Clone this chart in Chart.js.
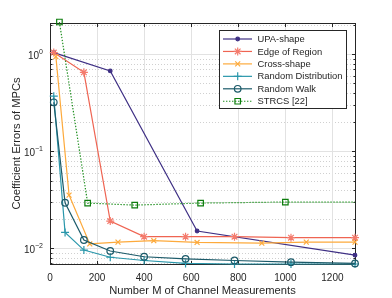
<!DOCTYPE html>
<html>
<head>
<meta charset="utf-8">
<script src="https://cdn.jsdelivr.net/npm/chart.js@4.4.0/dist/chart.umd.min.js"></script>
<style>
  html, body { margin: 0; padding: 0; background: #fff; }
</style>
</head>
<body>
<canvas id="chart" width="392" height="298"></canvas>
<script>
// number of channel measurements M (x) and coefficient error (y) per method
const upaM = [16, 256, 625, 1296];
const upaErr = [1.04, 0.673, 0.0151, 0.0085];

const edgeM = [16, 144, 256, 400, 576, 784, 1024, 1296];
const edgeErr = [1.04, 0.652, 0.0191, 0.0132, 0.0132, 0.0132, 0.0129, 0.0129];

const crossM = [25, 81, 169, 289, 441, 625, 900, 1089, 1296];
const crossErr = [0.945, 0.0354, 0.0111, 0.0116, 0.0120, 0.0115, 0.0113, 0.0116, 0.0116];

const randM = [16, 64, 144, 256, 400, 576, 784, 1024, 1296];
const randDistErr = [0.37, 0.0146, 0.0096, 0.0081, 0.0075, 0.0070, 0.0069, 0.0069, 0.0069];
const randWalkErr = [0.32, 0.0295, 0.0122, 0.0094, 0.0082, 0.0078, 0.0075, 0.0072, 0.0070];

const strcsM = [40, 160, 360, 640, 1000, 1296];
const strcsErr = [2.15, 0.0293, 0.0279, 0.0293, 0.0300, 0.0300];

const xTicks = [0, 200, 400, 600, 800, 1000, 1200];
const xRange = [0, 1296];
const yRange = [0.0069, 2.1];

const FONT = "'Liberation Sans', Arial, Helvetica, sans-serif";
const INK = '#262626';

function series(label, xs, ys, color, extra) {
  return Object.assign({
    label: label,
    data: xs.map((m, i) => ({ x: m, y: ys[i] })),
    borderColor: color,
    backgroundColor: color,
    pointBorderColor: color,
    pointBackgroundColor: color,
    borderWidth: 1.2,
    pointBorderWidth: 1.2,
    tension: 0,
    clip: false,
  }, extra);
}

const datasets = [
  series('UPA-shape', upaM, upaErr, '#3e2f84', { pointStyle: 'circle', pointRadius: 1.8, order: 6 }),
  series('Edge of Region', edgeM, edgeErr, '#ef6452', { pointStyle: 'star', pointRadius: 4, pointBorderColor: '#f47b6d', order: 5 }),
  series('Cross-shape', crossM, crossErr, '#fdaa3c', { pointStyle: 'crossRot', pointRadius: 3.5, order: 4 }),
  series('Random Distribution', randM, randDistErr, '#2a97ab', { pointStyle: 'cross', pointRadius: 4, order: 3 }),
  series('Random Walk', randM, randWalkErr, '#1b5a69', { pointStyle: 'circle', pointRadius: 3.3, pointBackgroundColor: 'rgba(0,0,0,0)', order: 2 }),
  series('STRCS [22]', strcsM, strcsErr, '#1f8f1f', {
    pointStyle: 'rect', pointRadius: strcsM.map((m, i) => i < strcsM.length - 1 ? 3.9 : 0),
    pointBorderColor: '#0d7d0d', pointBackgroundColor: 'rgba(0,0,0,0)',
    borderDash: [1.4, 1.6], order: 1,
  }),
];

function hline(ctx, x0, x1, y) { ctx.beginPath(); ctx.moveTo(x0, y); ctx.lineTo(x1, y); ctx.stroke(); }
function vline(ctx, x, y0, y1) { ctx.beginPath(); ctx.moveTo(x, y0); ctx.lineTo(x, y1); ctx.stroke(); }

function logValues() {
  const major = [], minor = [];
  for (let e = Math.floor(Math.log10(yRange[0])); e <= Math.ceil(Math.log10(yRange[1])); e++) {
    for (let m = 1; m <= 9; m++) {
      const v = m * Math.pow(10, e);
      if (v < yRange[0] || v > yRange[1]) continue;
      (m === 1 ? major : minor).push(v);
    }
  }
  return { major, minor };
}

// grid, box and tick marks in the MATLAB look
const axesPlugin = {
  id: 'axesPlugin',
  beforeDatasetsDraw(chart) {
    const { ctx, chartArea: a, scales: { x, y } } = chart;
    const lv = logValues();
    ctx.save();
    ctx.lineWidth = 1;
    ctx.strokeStyle = '#d0d0d0';
    ctx.setLineDash([1, 2]);
    lv.minor.forEach(v => hline(ctx, a.left, a.right, Math.round(y.getPixelForValue(v)) + 0.5));
    ctx.setLineDash([]);
    ctx.strokeStyle = '#e2e2e2';
    lv.major.forEach(v => hline(ctx, a.left, a.right, Math.round(y.getPixelForValue(v)) + 0.5));
    xTicks.forEach(v => vline(ctx, Math.round(x.getPixelForValue(v)) + 0.5, a.top, a.bottom));

    ctx.strokeStyle = INK;
    const L = Math.round(a.left) + 0.5, R = Math.round(a.right) + 0.5;
    const T = Math.round(a.top) + 0.5, B = Math.round(a.bottom) + 0.5;
    ctx.strokeRect(L, T, R - L, B - T);
    xTicks.forEach(v => {
      const px = Math.round(x.getPixelForValue(v)) + 0.5;
      vline(ctx, px, B, B - 3.5);
      vline(ctx, px, T, T + 3.5);
    });
    lv.major.forEach(v => {
      const py = Math.round(y.getPixelForValue(v)) + 0.5;
      hline(ctx, L, L + 3.5, py);
      hline(ctx, R, R - 3.5, py);
    });
    lv.minor.forEach(v => {
      const py = Math.round(y.getPixelForValue(v)) + 0.5;
      hline(ctx, L, L + 2, py);
      hline(ctx, R, R - 2, py);
    });

    // y tick labels as 10 with a raised exponent
    ctx.fillStyle = INK;
    ctx.textBaseline = 'middle';
    ctx.textAlign = 'left';
    lv.major.forEach(v => {
      const py = y.getPixelForValue(v);
      const exp = String(Math.round(Math.log10(v))).replace('-', '\u2212');
      ctx.font = '10px ' + FONT;
      const wBase = ctx.measureText('10').width;
      ctx.font = '7px ' + FONT;
      const wExp = ctx.measureText(exp).width;
      const x0 = a.left - 7 - wBase - wExp;
      ctx.font = '10px ' + FONT;
      ctx.fillText('10', x0, py + 1.5);
      ctx.font = '7px ' + FONT;
      ctx.fillText(exp, x0 + wBase, py - 2.5);
    });
    ctx.restore();
  },
  afterDatasetsDraw(chart) {
    const { ctx } = chart;
    const box = { left: 219.5, top: 30.5, width: 127, height: 78 };
    ctx.save();
    ctx.fillStyle = '#fff';
    ctx.fillRect(box.left, box.top, box.width, box.height);
    ctx.strokeStyle = INK;
    ctx.lineWidth = 1;
    ctx.strokeRect(box.left, box.top, box.width, box.height);
    ctx.font = '9.4px ' + FONT;
    ctx.textBaseline = 'middle';
    datasets.forEach((ds, i) => {
      const yy = 39 + i * 12.45;
      ctx.strokeStyle = ds.borderColor;
      ctx.lineWidth = ds.borderWidth;
      ctx.setLineDash(ds.borderDash || []);
      hline(ctx, 223, 252, yy);
      ctx.setLineDash([]);
      ctx.strokeStyle = ds.pointBorderColor;
      ctx.fillStyle = ds.pointBackgroundColor;
      ctx.lineWidth = ds.pointBorderWidth;
      const r = Array.isArray(ds.pointRadius) ? ds.pointRadius[0] : ds.pointRadius;
      Chart.helpers.drawPoint(ctx, { pointStyle: ds.pointStyle, radius: r, borderWidth: ds.pointBorderWidth, rotation: 0 }, 237.7, yy);
      ctx.fillStyle = INK;
      ctx.fillText(ds.label, 257.5, yy + 0.5);
    });
    ctx.restore();
  },
};

new Chart(document.getElementById('chart'), {
  type: 'line',
  data: { datasets: datasets },
  plugins: [axesPlugin],
  options: {
    responsive: false,
    devicePixelRatio: 1,
    animation: false,
    events: [],
    layout: { padding: { left: 0, right: 37, top: 23, bottom: 0 } },
    plugins: { legend: { display: false }, tooltip: { enabled: false } },
    scales: {
      x: {
        type: 'linear',
        min: xRange[0],
        max: xRange[1],
        grid: { display: false },
        border: { display: false },
        ticks: {
          stepSize: 200,
          includeBounds: false,
          padding: 0,
          color: INK,
          font: { family: FONT, size: 10 },
          maxRotation: 0,
          callback: v => String(v),
        },
        title: {
          display: true,
          text: 'Number M of Channel Measurements',
          color: INK,
          font: { family: FONT, size: 11.2 },
          padding: { top: 0, bottom: 0.3 },
        },
        afterFit: s => { s.height = 34; },
      },
      y: {
        type: 'logarithmic',
        min: yRange[0],
        max: yRange[1],
        grid: { display: false },
        border: { display: false },
        ticks: { display: false },
        title: {
          display: true,
          text: 'Coefficient Errors of MPCs',
          color: INK,
          font: { family: FONT, size: 11.2 },
          padding: { top: 10.3, bottom: 0 },
        },
        afterFit: s => { s.width = 50; },
      },
    },
  },
});
</script>
</body>
</html>
